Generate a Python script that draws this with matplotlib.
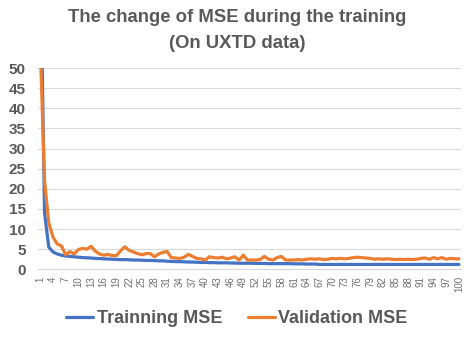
import matplotlib
matplotlib.use("Agg")
import matplotlib.pyplot as plt

epochs = list(range(1, 101))

training_mse = [
    80, 14, 5.5, 4.3, 3.8, 3.5, 3.3, 3.2, 3.1, 3.0,
    2.9, 2.85, 2.8, 2.7, 2.65, 2.6, 2.55, 2.5, 2.45, 2.4,
    2.4, 2.35, 2.3, 2.3, 2.25, 2.2, 2.2, 2.15, 2.1, 2.1,
    2.0, 1.95, 1.9, 1.9, 1.85, 1.8, 1.8, 1.75, 1.7, 1.7,
    1.65, 1.65, 1.6, 1.6, 1.6, 1.55, 1.55, 1.5, 1.5, 1.5,
    1.5, 1.45, 1.45, 1.45, 1.4, 1.4, 1.4, 1.4, 1.4, 1.4,
    1.35, 1.35, 1.35, 1.3, 1.3, 1.3, 1.2, 1.2, 1.2, 1.2,
    1.2, 1.2, 1.2, 1.2, 1.2, 1.2, 1.2, 1.2, 1.2, 1.2,
    1.2, 1.2, 1.2, 1.2, 1.2, 1.2, 1.2, 1.2, 1.2, 1.2,
    1.2, 1.2, 1.2, 1.2, 1.2, 1.2, 1.2, 1.2, 1.2, 1.2,
]

validation_mse = [
    55, 22, 11.5, 8.0, 6.3, 5.8, 3.6, 4.4, 3.8, 4.9,
    5.2, 5.0, 5.7, 4.5, 3.8, 3.5, 3.7, 3.4, 3.4, 4.6,
    5.6, 4.7, 4.3, 3.9, 3.6, 3.9, 3.9, 3.1, 3.8, 4.2,
    4.4, 2.9, 2.8, 2.7, 3.0, 3.7, 3.2, 2.7, 2.6, 2.3,
    3.1, 2.9, 2.8, 3.0, 2.6, 2.8, 3.1, 2.3, 3.5, 2.3,
    2.3, 2.3, 2.4, 3.2, 2.5, 2.3, 2.9, 3.2, 2.3, 2.3,
    2.3, 2.4, 2.3, 2.5, 2.6, 2.5, 2.6, 2.4, 2.5, 2.7,
    2.6, 2.7, 2.6, 2.7, 2.9, 3.0, 2.9, 2.8, 2.7, 2.5,
    2.6, 2.5, 2.6, 2.5, 2.4, 2.5, 2.4, 2.5, 2.4, 2.5,
    2.7, 2.8, 2.5, 2.9, 2.6, 2.9, 2.5, 2.7, 2.6, 2.6,
]

y_ticks = [0, 5, 10, 15, 20, 25, 30, 35, 40, 45, 50]
x_ticks = list(range(1, 101, 3))

title_lines = ["The change of MSE during the training", "(On UXTD data)"]
series_labels = ["Trainning MSE", "Validation MSE"]
colors = ["#4472C4", "#ED7D31"]

plt.rcParams['font.family'] = ['Liberation Sans', 'DejaVu Sans']
text_color = "#595959"

fig = plt.figure(figsize=(4.74, 3.4), dpi=100)
ax = fig.add_axes([0.0806, 0.208, 0.892, 0.592])

ax.plot(epochs, training_mse, color=colors[0], lw=2.3, label=series_labels[0],
        solid_capstyle='round', zorder=3)
ax.plot(epochs, validation_mse, color=colors[1], lw=2.3, label=series_labels[1],
        solid_capstyle='round', zorder=3)

ax.set_xlim(0.5, 100.5)
ax.set_ylim(0, 50)
ax.set_yticks(y_ticks)
ax.set_yticklabels([str(v) for v in y_ticks], fontsize=11, fontweight='bold', color=text_color)
ax.set_xticks(x_ticks)
ax.set_xticklabels([str(v) for v in x_ticks], rotation=90, fontsize=7, color='#707070')
ax.tick_params(axis='x', length=0, pad=5)
ax.tick_params(axis='y', length=0, pad=9)

ax.grid(axis='y', color='#D9D9D9', lw=0.8, zorder=0)
ax.set_axisbelow(True)
for s in ['top', 'right', 'left']:
    ax.spines[s].set_visible(False)
ax.spines['bottom'].set_color('#D9D9D9')
ax.spines['bottom'].set_linewidth(0.8)

fig.text(0.5, 1 - 18 / 340, title_lines[0], ha='center', va='center',
         fontsize=13.3, fontweight='bold', color=text_color)
fig.text(0.5, 1 - 43 / 340, title_lines[1], ha='center', va='center',
         fontsize=13.3, fontweight='bold', color=text_color)

leg = fig.legend(loc='center', bbox_to_anchor=(0.5, 0.063), ncol=2, frameon=False,
                 prop={'size': 13, 'weight': 'bold'}, handlelength=1.5,
                 handletextpad=0.2, columnspacing=1.4)
for t in leg.get_texts():
    t.set_color(text_color)

fig.savefig("out.png", dpi=100)
